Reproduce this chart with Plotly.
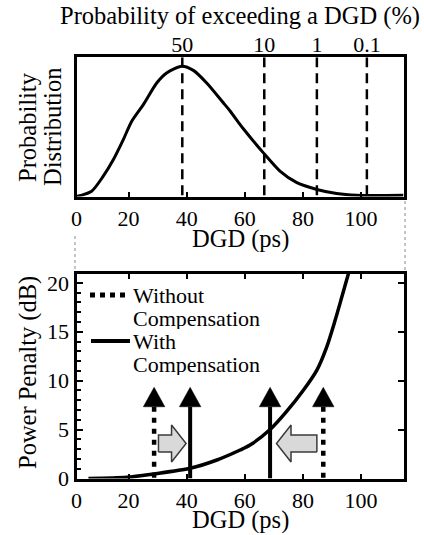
import plotly.graph_objects as go

# ---- data -------------------------------------------------------------
# DGD probability density (normalised to its peak value)
pdf_dgd = [2.1, 7.3, 11.3, 14.8, 18.2, 21.1, 25.1, 29.7, 33.1, 38.3, 42.3, 46.9,
           52.6, 55.0, 57.8, 59.5, 66.4, 72.1, 77.9, 84.8, 91.6, 98.5, 114.6]
pdf_val = [0.0, 0.041, 0.156, 0.284, 0.437, 0.578, 0.706, 0.872, 0.949, 1.0, 0.969, 0.872,
           0.72, 0.655, 0.57, 0.52, 0.335, 0.195, 0.106, 0.054, 0.023, 0.010, 0.010]

# DGD values exceeded with the given probability (top axis)
exceed_pct = ["50", "10", "1", "0.1"]
exceed_dgd = [38.5, 66.7, 84.8, 102.0]

# Power penalty versus DGD
pen_dgd = [6.2, 19.4, 28.5, 41.2, 50.4, 58.4, 61.8, 68.7, 74.4, 80.2, 84.8, 88.2, 91.1, 93.4, 96.0]
pen_db = [0.0, 0.12, 0.46, 1.04, 1.89, 2.91, 3.42, 5.0, 6.85, 9.04, 11.08, 13.46, 16.19, 18.57, 21.3]

# Tolerable DGD limits without / with compensation
without_comp = [28.8, 87.0]
with_comp = [41.2, 68.7]

# Shift of the limits brought by compensation (from -> to)
shift_from = [30.3, 84.8]
shift_to = [39.8, 70.9]

# x axis tick labels
x_ticks = [2.1, 20, 40, 60, 80, 100]
x_ticktext = ["0", "20", "40", "60", "80", "100"]
x_range = [2.1, 114.6]
pdf_range = [0, 1.07]
pen_range = [0, 20.9]

# ---- styling constants ---------------------------------------------------
FONT = "Liberation Serif"
TICK_SIZE = 22
TITLE_SIZE = 24.5
W, H = 424, 535

arrow_head_base = 7.33
arrow_head_tip = 9.32
arrow_head_half = 3.7      # half width of the arrow heads, ps
shift_y = 3.58
shift_body_half = 0.87
shift_head_half = 1.89
shift_head_len = 5.0

fig = go.Figure()

# dashed lines at the exceedance DGDs (tied to the top probability axis)
for xv in exceed_dgd:
    fig.add_trace(go.Scatter(x=[xv, xv], y=[pdf_range[1], pdf_range[0]], mode="lines",
                             line=dict(color="black", width=2.5, dash="10px,6px"),
                             xaxis="x3", yaxis="y", showlegend=False, hoverinfo="skip"))

# probability density
fig.add_trace(go.Scatter(x=pdf_dgd, y=pdf_val, mode="lines",
                         line=dict(color="black", width=3, shape="spline", smoothing=0.7),
                         xaxis="x", yaxis="y", showlegend=False, hoverinfo="skip"))

# penalty curve
fig.add_trace(go.Scatter(x=pen_dgd, y=pen_db, mode="lines",
                         line=dict(color="black", width=3.5, shape="spline", smoothing=0.8),
                         xaxis="x2", yaxis="y3", showlegend=False, hoverinfo="skip"))


def vertical_arrow(xv, dash, width):
    fig.add_trace(go.Scatter(x=[xv, xv], y=[arrow_head_base, 0], mode="lines",
                             line=dict(color="black", width=width, dash=dash),
                             xaxis="x2", yaxis="y2", showlegend=False, hoverinfo="skip"))
    fig.add_trace(go.Scatter(x=[xv - arrow_head_half, xv + arrow_head_half, xv, xv - arrow_head_half],
                             y=[arrow_head_base, arrow_head_base, arrow_head_tip, arrow_head_base],
                             mode="lines", fill="toself", fillcolor="black", line=dict(color="black", width=0.5),
                             xaxis="x2", yaxis="y2", showlegend=False, hoverinfo="skip"))


for xv in without_comp:
    vertical_arrow(xv, "5px,6px", 4.5)
for xv in with_comp:
    vertical_arrow(xv, "solid", 4)

# block arrows showing the shift of the limits
for x0, x1 in zip(shift_from, shift_to):
    sgn = 1 if x1 > x0 else -1
    xb = x1 - sgn * shift_head_len
    xs = [x0, xb, xb, x1, xb, xb, x0, x0]
    ys = [shift_y - shift_body_half, shift_y - shift_body_half, shift_y - shift_head_half, shift_y,
          shift_y + shift_head_half, shift_y + shift_body_half, shift_y + shift_body_half, shift_y - shift_body_half]
    fig.add_trace(go.Scatter(x=xs, y=ys, mode="lines", fill="toself", fillcolor="#d9d9d9",
                             line=dict(color="#3a3a3a", width=1.5),
                             xaxis="x2", yaxis="y2", showlegend=False, hoverinfo="skip"))

shapes = []
# thin dotted guides joining the two panels
shapes.append(dict(type="line", xref="paper", yref="paper", x0=75 / W, x1=75 / W,
                   y0=1 - 236 / H, y1=1 - 272 / H, line=dict(color="#8a8a8a", width=1, dash="dot")))
shapes.append(dict(type="line", xref="paper", yref="paper", x0=405 / W, x1=405 / W,
                   y0=1 - 201 / H, y1=1 - 272 / H, line=dict(color="#8a8a8a", width=1, dash="dot")))

# legend samples
shapes.append(dict(type="line", xref="paper", yref="paper", x0=90 / W, x1=130 / W,
                   y0=1 - 295 / H, y1=1 - 295 / H, line=dict(color="black", width=5, dash="5px,5px")))
shapes.append(dict(type="line", xref="paper", yref="paper", x0=91 / W, x1=130 / W,
                   y0=1 - 341 / H, y1=1 - 341 / H, line=dict(color="black", width=4)))

annotations = []
for text, py in [("Without", 295), ("Compensation", 318), ("With", 341), ("Compensation", 364)]:
    annotations.append(dict(text=text, xref="paper", yref="paper", x=131 / W, y=1 - py / H,
                            xanchor="left", yanchor="middle", showarrow=False, height=22,
                            font=dict(family=FONT, size=TICK_SIZE, color="black")))

# axis titles
for text, px, py in [("Probability", 28, 127), ("Distribution", 53, 127), ("Power Penalty (dB)", 28, 373)]:
    annotations.append(dict(text=text, xref="paper", yref="paper", x=px / W, y=1 - py / H,
                            xanchor="center", yanchor="middle", textangle=-90, showarrow=False,
                            font=dict(family=FONT, size=TITLE_SIZE, color="black")))
for py in [239, 519.5]:
    annotations.append(dict(text="DGD (ps)", xref="paper", yref="paper", x=240 / W, y=1 - py / H,
                            xanchor="center", yanchor="middle", showarrow=False, height=26,
                            font=dict(family=FONT, size=TITLE_SIZE, color="black")))

x_dom = [76.5 / W, 403.5 / W]
axis_common = dict(showgrid=False, zeroline=False, linecolor="black", linewidth=3, showline=True,
                   automargin=False, tickcolor="black",
                   tickfont=dict(family=FONT, size=TICK_SIZE, color="black"))

fig.update_layout(
    width=W, height=H, margin=dict(l=0, r=0, t=0, b=0, autoexpand=False),
    paper_bgcolor="white", plot_bgcolor="white",
    font=dict(family=FONT, color="black"),
    xaxis=dict(domain=x_dom, anchor="y", range=x_range, tickvals=x_ticks, ticktext=x_ticktext,
               ticks="inside", ticklen=5, tickwidth=1.5, mirror=True, **axis_common),
    yaxis=dict(domain=[1 - 196.5 / H, 1 - 57.2 / H], anchor="x", range=pdf_range, ticks="",
               showticklabels=False, mirror=True, **axis_common),
    xaxis3=dict(overlaying="x", anchor="y", side="top", range=x_range, tickvals=exceed_dgd,
                ticktext=exceed_pct, ticks="", showline=False, showgrid=False, zeroline=False,
                automargin=False, tickfont=dict(family=FONT, size=TICK_SIZE, color="black"),
                title=dict(text="Probability of exceeding a DGD (%)", font=dict(family=FONT, size=TITLE_SIZE),
                           standoff=0)),
    xaxis2=dict(domain=x_dom, anchor="y2", range=x_range, tickvals=x_ticks, ticktext=x_ticktext,
                ticks="inside", ticklen=5, tickwidth=1.5, mirror="ticks", **axis_common),
    yaxis2=dict(domain=[1 - 478.5 / H, 1 - 274 / H], anchor="x2", range=pen_range, tick0=0, dtick=5,
                ticks="inside", ticklen=6, tickwidth=1.5, mirror=True,
                minor=dict(ticks="inside", dtick=1, ticklen=4, tickwidth=1.5, tickcolor="black"),
                **axis_common),
    yaxis3=dict(overlaying="y2", anchor="x2", side="right", range=pen_range, tickvals=[5, 10, 15, 20],
                ticks="inside", ticklen=6, tickwidth=1.5, tickcolor="black", showticklabels=False,
                showline=False, showgrid=False, zeroline=False, automargin=False),
    shapes=shapes,
    annotations=annotations,
)

fig.write_html("out.html")
